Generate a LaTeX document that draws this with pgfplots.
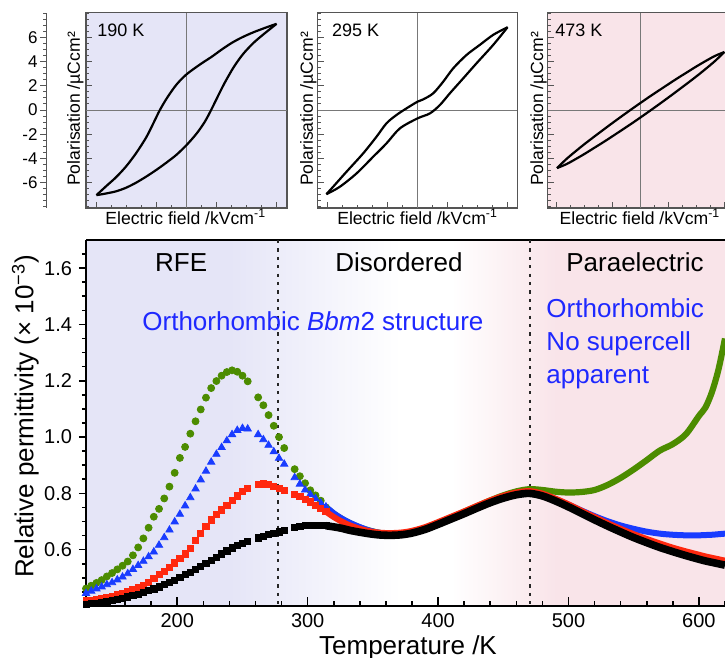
\documentclass[border=0pt]{standalone}
\usepackage{fontspec}
\setmainfont{Liberation Sans}
\usepackage{pgfplots}
\pgfplotsset{compat=1.18}

\definecolor{lav}{RGB}{229,229,247}
\definecolor{pnk}{RGB}{249,228,233}
\definecolor{sgreen}{RGB}{76,140,0}
\definecolor{sblue}{RGB}{25,60,255}
\definecolor{sred}{RGB}{255,40,15}
\definecolor{txtblue}{RGB}{30,40,255}
\definecolor{framegray}{RGB}{85,85,85}
\definecolor{zerogray}{RGB}{120,120,120}

\newcommand{\fs}[1]{\fontsize{#1pt}{#1pt}\selectfont}

\tikzset{phase line/.style={black!85, dash pattern=on 1.6pt off 2.6pt, line width=1pt}}

\pgfplotsset{
  loop panel/.style={
    scale only axis, height=97.65pt,
    xmin=-10, xmax=10, ymin=-8.1, ymax=8.05,
    axis line style={framegray, line width=0.6pt},
    tick align=inside, xtick pos=bottom, ytick pos=left,
    xtick={-9,-3,3,9}, minor xtick={-9,-7.5,...,9},
    ytick={-6,-4,-2,0,2,4,6}, minor ytick={-8,-7.5,...,8},
    xticklabels={}, yticklabels={},
    major tick length=3pt, minor tick length=1.5pt,
    every tick/.style={framegray, line width=0.5pt},
  },
  hyst/.style={black, line width=1.1pt, smooth, no markers},
  main frame/.style={
    at={(43pt,26pt)}, anchor=south west,
    scale only axis, width=319.5pt, height=183pt,
    xmin=130, xmax=620, ymin=0.4, ymax=1.7,
  },
}

% low-temperature points, drawn with markers (T /K, permittivity x 10^-3)
\pgfplotstableread{
T g b r k
130 0.462 0.445 0.418 0.406
134 0.472 0.453 0.420 0.408
138 0.482 0.461 0.423 0.410
142 0.492 0.468 0.427 0.413
146 0.505 0.476 0.431 0.417
150 0.517 0.483 0.435 0.420
154 0.530 0.493 0.440 0.424
158 0.543 0.503 0.445 0.428
162 0.558 0.515 0.450 0.432
166 0.580 0.530 0.457 0.437
170 0.608 0.544 0.465 0.442
174 0.640 0.559 0.473 0.448
178 0.678 0.575 0.485 0.455
182 0.717 0.592 0.498 0.461
186 0.745 0.616 0.511 0.468
190 0.782 0.643 0.524 0.476
194 0.824 0.670 0.538 0.484
198 0.873 0.699 0.553 0.492
202 0.926 0.726 0.569 0.501
206 0.965 0.756 0.585 0.511
210 1.012 0.785 0.604 0.520
214 1.056 0.816 0.633 0.530
218 1.098 0.848 0.659 0.541
222 1.140 0.879 0.684 0.552
226 1.174 0.911 0.706 0.563
230 1.199 0.939 0.724 0.574
234 1.218 0.963 0.741 0.585
238 1.231 0.987 0.757 0.596
242 1.237 1.009 0.774 0.606
246 1.232 1.024 0.791 0.615
250 1.218 1.031 0.806 0.623
254 1.198 1.029 0.818 0.630
262 1.141 1.009 0.833 0.642
266 1.113 0.991 0.834 0.647
270 1.078 0.971 0.831 0.653
274 1.040 0.948 0.826 0.658
278 1.000 0.925 0.818 0.663
282 0.961 0.904 0.810 0.669
290 0.886 0.856 0.797 0.678
294 0.861 0.833 0.789 0.682
298 0.836 0.812 0.780 0.685
302 0.811 0.796 0.770 0.686
306 0.793 0.781 0.758 0.687
310 0.774 0.766 0.747 0.687
314 0.750 0.752 0.735 0.685
}\lowT

% high-temperature points, dense enough to read as a continuous band
\pgfplotstableread{
T g b r k
314 0.750 0.752 0.735 0.685
320 0.728 0.729 0.716 0.681
326 0.710 0.711 0.700 0.676
332 0.695 0.696 0.687 0.669
340 0.679 0.680 0.674 0.662
348 0.667 0.667 0.665 0.656
356 0.659 0.659 0.660 0.652
364 0.656 0.656 0.659 0.651
372 0.658 0.658 0.661 0.653
380 0.664 0.664 0.667 0.659
390 0.678 0.677 0.680 0.672
400 0.696 0.695 0.698 0.690
410 0.715 0.714 0.717 0.709
420 0.735 0.733 0.736 0.728
430 0.755 0.753 0.756 0.748
440 0.775 0.772 0.775 0.767
450 0.793 0.788 0.791 0.783
460 0.807 0.800 0.803 0.795
470 0.815 0.805 0.808 0.800
480 0.812 0.797 0.799 0.791
490 0.806 0.780 0.781 0.773
500 0.803 0.760 0.761 0.752
510 0.805 0.739 0.738 0.729
520 0.812 0.719 0.716 0.706
530 0.830 0.701 0.694 0.684
540 0.855 0.686 0.674 0.663
550 0.885 0.674 0.655 0.643
560 0.918 0.664 0.638 0.625
570 0.952 0.657 0.622 0.608
580 0.975 0.653 0.607 0.593
590 1.010 0.651 0.594 0.579
600 1.075 0.651 0.582 0.566
605 1.105 0.652 0.576 0.560
610 1.160 0.653 0.571 0.555
615 1.240 0.655 0.566 0.550
620 1.350 0.657 0.561 0.545
}\highT

\begin{document}
\begin{tikzpicture}

% ---------- P-E loop at 190 K ----------
\begin{axis}[loop panel, at={(43pt,225pt)}, anchor=south west, width=100.5pt,
  axis background/.style={fill=lav}]
  \draw[zerogray, line width=0.5pt] (axis cs:0,-8.1) -- (axis cs:0,8.05);
  \draw[zerogray, line width=0.5pt] (axis cs:-10,0) -- (axis cs:10,0);
  \addplot[hyst] coordinates {(8.96,7.13) (7.9,6.82) (6.63,6.42) (5.5,6.0) (4.5,5.55)
    (3.5,5.0) (2.5,4.4) (1.4,3.8) (0,2.95) (-1,2.1) (-1.9,1.05) (-2.65,0)
    (-3.3,-1.1) (-4,-2.25) (-5,-3.55) (-6,-4.65) (-7,-5.55) (-8,-6.3) (-8.96,-7.04)};
  \addplot[hyst] coordinates {(-8.96,-7.04) (-8,-6.9) (-7,-6.72) (-6,-6.42) (-5,-6.0)
    (-4,-5.5) (-3,-4.95) (-2,-4.35) (-1,-3.7) (0,-2.9) (1,-1.95) (1.8,-1.0)
    (2.45,0) (3.1,1.1) (3.8,2.25) (4.7,3.55) (5.6,4.6) (6.6,5.5) (7.6,6.22) (8.96,7.13)};
\end{axis}
% detached polarisation scale of the first loop
\begin{axis}[at={(23pt,225pt)}, anchor=south west,
  scale only axis, width=1pt, height=97.65pt,
  xmin=0, xmax=1, ymin=-8.1, ymax=8.05,
  axis x line=none, axis y line*=left,
  axis line style={framegray, line width=0.5pt},
  tick align=outside,
  ytick={-6,-4,-2,0,2,4,6}, yticklabels={-6,-4,-2,0,2,4,6},
  minor ytick={-8,-7.5,...,8},
  major tick length=3pt, minor tick length=1.5pt,
  every tick/.style={framegray, line width=0.5pt},
  yticklabel style={font=\fs{8.5}, inner sep=1pt}]
  \addplot[draw=none, forget plot] coordinates {(0.5,0)};
\end{axis}

% ---------- P-E loop at 295 K ----------
\begin{axis}[loop panel, at={(158.85pt,225pt)}, anchor=south west, width=99.8pt]
  \draw[zerogray, line width=0.5pt] (axis cs:0,-8.1) -- (axis cs:0,8.05);
  \draw[zerogray, line width=0.5pt] (axis cs:-10,0) -- (axis cs:10,0);
  \addplot[hyst] coordinates {(9.03,6.85) (7.59,6.22) (6.25,5.39) (4.92,4.56)
    (3.58,3.45) (2.58,2.35) (1.57,1.38) (0.57,0.88) (0,0.69) (-1.10,0.14)
    (-2.11,-0.41) (-3.11,-1.10) (-4.11,-2.21) (-5.45,-3.59) (-7.12,-5.11)
    (-8.46,-6.35) (-9.13,-6.96)};
  \addplot[hyst] coordinates {(-9.13,-6.96) (-7.79,-6.35) (-6.12,-5.25) (-4.45,-3.87)
    (-3.11,-2.76) (-1.77,-1.52) (0,-0.69) (1.24,-0.28) (2.24,0.41) (3.24,1.38)
    (4.58,2.62) (5.92,3.87) (7.59,5.39) (9.03,6.85)};
\end{axis}

% ---------- P-E loop at 473 K ----------
\begin{axis}[loop panel, at={(273.85pt,225pt)}, anchor=south west, width=93pt,
  axis background/.style={fill=pnk}]
  \draw[zerogray, line width=0.5pt] (axis cs:0,-8.1) -- (axis cs:0,8.05);
  \draw[zerogray, line width=0.5pt] (axis cs:-10,0) -- (axis cs:10,0);
  \addplot[hyst] coordinates {(9,4.8) (8,4.48) (7,4.06) (6,3.61) (5,3.13) (4,2.65)
    (3,2.15) (2,1.64) (1,1.13) (0,0.6) (-1,0.06) (-2,-0.49) (-3,-1.05) (-4,-1.62)
    (-5,-2.20) (-6,-2.79) (-7,-3.41) (-8,-4.06) (-9,-4.8)};
  \addplot[hyst] coordinates {(-9,-4.8) (-8,-4.48) (-7,-4.06) (-6,-3.61) (-5,-3.13)
    (-4,-2.65) (-3,-2.15) (-2,-1.64) (-1,-1.13) (0,-0.6) (1,-0.06) (2,0.49)
    (3,1.05) (4,1.62) (5,2.20) (6,2.79) (7,3.41) (8,4.06) (9,4.8)};
\end{axis}

% loop labels
\node[anchor=west, font=\fs{9}, inner sep=0pt] at (48.5pt,314pt) {190 K};
\node[anchor=west, font=\fs{9}, inner sep=0pt] at (165.85pt,314pt) {295 K};
\node[anchor=west, font=\fs{9}, inner sep=0pt] at (277.5pt,314pt) {473 K};
\foreach \xc in {92.9,208.8,320}
  \node[anchor=base, font=\fs{8.8}, inner sep=0pt] at (\xc pt,216.5pt)
    {Electric field /kVcm\textsuperscript{-1}};
\foreach \xb in {40,156.5,271.5}
  \node[anchor=base, rotate=90, font=\fs{8.8}, inner sep=0pt] at (\xb pt,274.5pt)
    {Polarisation /µCcm²};

% ---------- permittivity vs temperature ----------
\begin{axis}[main frame, set layers,
  axis y line*=left,
  axis line style={black, line width=1.1pt},
  tick align=outside, xtick pos=bottom,
  xtick=\empty,
  ytick={0.6,0.8,1.0,1.2,1.4,1.6}, yticklabels={0.6,0.8,1.0,1.2,1.4,1.6},
  minor ytick={0.45,0.5,...,1.65},
  major tick length=3.5pt, minor tick length=2pt,
  every tick/.style={black, line width=0.8pt},
  tick label style={font=\fs{10}},
]
  \begin{pgfonlayer}{axis background}
    \fill[lav] (axis cs:130,0.4) rectangle (axis cs:241,1.7);
    \fill[left color=lav, right color=white] (axis cs:240,0.4) rectangle (axis cs:371,1.7);
    \fill[white] (axis cs:370,0.4) rectangle (axis cs:411,1.7);
    \fill[left color=white, right color=pnk] (axis cs:410,0.4) rectangle (axis cs:491,1.7);
    \fill[pnk] (axis cs:490,0.4) rectangle (axis cs:620,1.7);
  \end{pgfonlayer}

  \draw[phase line] (axis cs:277.6,1.7) -- (axis cs:277.6,0.4);
  \draw[phase line] (axis cs:470.5,1.7) -- (axis cs:470.5,0.4);

  \addplot[only marks, mark=*, mark size=1.75pt, color=sgreen] table[x=T, y=g] {\lowT};
  \addplot[only marks, mark=triangle*, mark size=2.1pt, color=sblue] table[x=T, y=b] {\lowT};
  \addplot[only marks, mark=square*, mark size=1.55pt, color=sred] table[x=T, y=r] {\lowT};
  \addplot[only marks, mark=square*, mark size=1.55pt, color=black] table[x=T, y=k] {\lowT};

  \addplot[sgreen, line width=3.1pt, smooth, no markers] table[x=T, y=g] {\highT};
  \addplot[sblue, line width=3pt, smooth, no markers] table[x=T, y=b] {\highT};
  \addplot[sred, line width=3pt, smooth, no markers] table[x=T, y=r] {\highT};
  \addplot[black, line width=3.8pt, smooth, no markers] table[x=T, y=k] {\highT};

  \node[anchor=base, font=\fs{13}] at (axis cs:203,1.589) {RFE};
  \node[anchor=base, font=\fs{13}] at (axis cs:370,1.589) {Disordered};
  \node[anchor=base, font=\fs{13}] at (axis cs:551,1.589) {Paraelectric};
  \node[anchor=base, font=\fs{13}, text=txtblue] at (axis cs:304,1.378)
    {Orthorhombic \textit{Bbm}2 structure};
  \node[anchor=base west, font=\fs{13}, text=txtblue, inner sep=0pt] at (axis cs:482.8,1.424) {Orthorhombic};
  \node[anchor=base west, font=\fs{13}, text=txtblue, inner sep=0pt] at (axis cs:482.8,1.308) {No supercell};
  \node[anchor=base west, font=\fs{13}, text=txtblue, inner sep=0pt] at (axis cs:482.8,1.192) {apparent};
\end{axis}

% temperature scale: inward ticks and labels
\begin{axis}[main frame,
  axis x line*=bottom, axis y line=none,
  axis line style={black, line width=1.1pt},
  tick align=inside,
  xtick={200,300,400,500,600}, xticklabels={200,300,400,500,600},
  minor xtick={140,160,...,620},
  major tick length=4.5pt, minor tick length=2.3pt,
  every tick/.style={black, line width=0.8pt},
  tick label style={font=\fs{10}},
]
  \addplot[draw=none, forget plot] coordinates {(300,1)};
\end{axis}

\node[anchor=base, rotate=90, font=\fs{13}, inner sep=0pt] at (16.7pt,120.75pt)
  {Relative permittivity (× 10\textsuperscript{−3})};
\node[anchor=base, font=\fs{13}, inner sep=0pt] at (204pt,1.5pt) {Temperature /K};

\pgfresetboundingbox
\path[use as bounding box] (0pt,0pt) rectangle (362.5pt,329pt);
\end{tikzpicture}
\end{document}
